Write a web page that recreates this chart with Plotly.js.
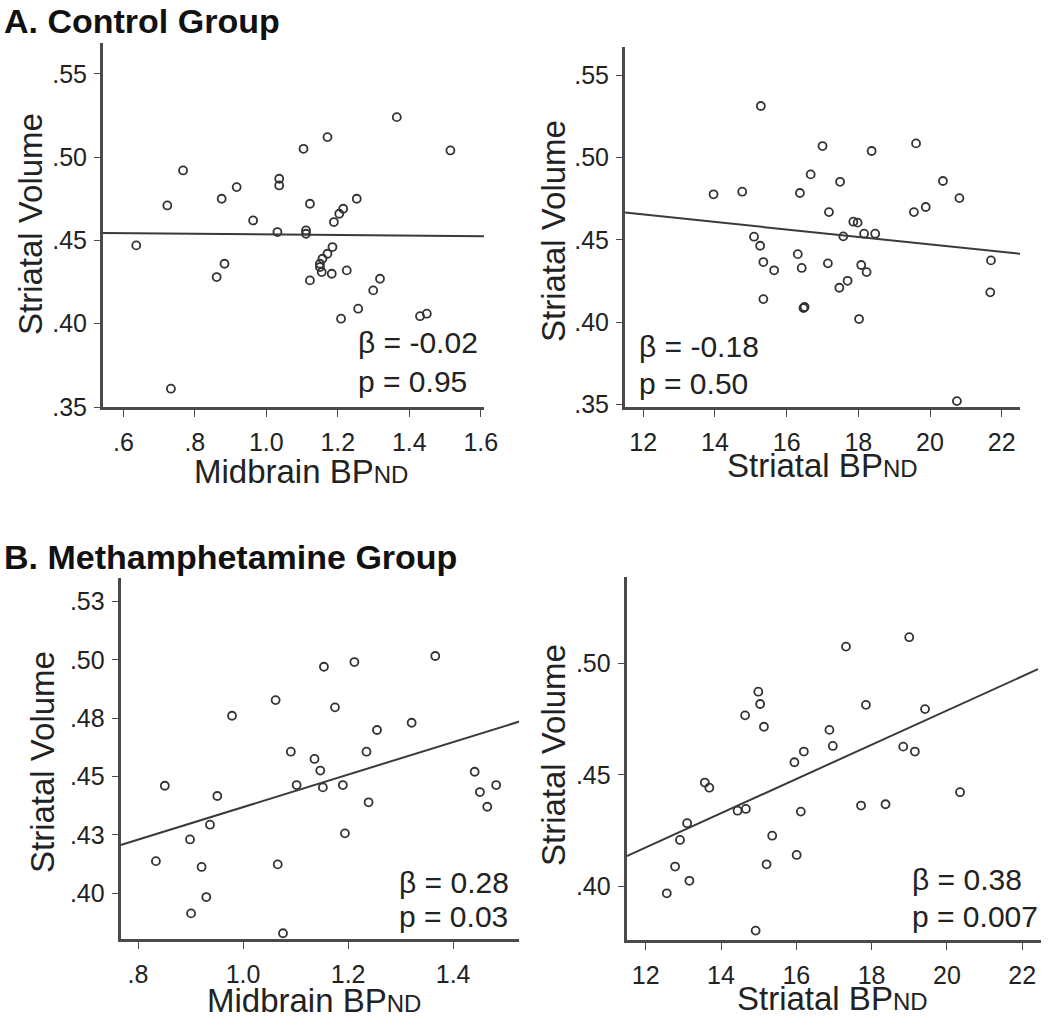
<!DOCTYPE html>
<html>
<head>
<meta charset="utf-8">
<script src="https://cdn.plot.ly/plotly-3.0.1.min.js"></script>
<style>html,body{margin:0;padding:0;background:#fff;}#chart{width:1050px;height:1029px;}</style>
</head>
<body>
<div id="chart"></div>
<script>
// ---------- Data ----------
// A. Control group – Midbrain BPND vs Striatal Volume
const ctrlMidX = [0.636,0.723,0.767,0.733,0.875,0.917,0.963,1.031,1.036,1.036,0.883,0.861,
  1.104,1.171,1.365,1.515,1.122,1.253,1.215,1.204,1.189,1.111,1.111,1.185,1.171,1.157,1.150,1.150,1.155,1.183,1.122,1.225,1.318,1.299,1.257,1.209,1.430,1.449];
const ctrlMidY = [0.447,0.471,0.492,0.361,0.475,0.482,0.462,0.455,0.483,0.487,0.436,0.428,
  0.505,0.512,0.524,0.504,0.472,0.475,0.469,0.466,0.461,0.456,0.454,0.446,0.442,0.439,0.436,0.434,0.431,0.430,0.426,0.432,0.427,0.420,0.409,0.403,0.4045,0.406];
const ctrlMidFitX = [0.543,1.609];
const ctrlMidFitY = [0.4545,0.4525];

// A. Control group – Striatal BPND vs Striatal Volume
const ctrlStrX = [15.28,13.96,14.76,16.37,16.67,15.09,15.26,15.35,15.65,16.31,16.42,15.35,16.47,16.50,
  17.00,18.37,19.61,17.49,20.36,20.82,17.18,19.55,19.88,17.86,17.98,17.58,18.16,18.47,17.15,18.08,18.23,17.70,17.47,18.02,21.70,21.68,20.75];
const ctrlStrY = [0.5312,0.4776,0.4792,0.4784,0.4897,0.4519,0.4464,0.4365,0.4315,0.4413,0.4329,0.4140,0.4086,0.4092,
  0.5069,0.5039,0.5085,0.4852,0.4857,0.4753,0.4668,0.4668,0.4699,0.4610,0.4604,0.4521,0.4537,0.4537,0.4357,0.4347,0.4304,0.4251,0.4209,0.4019,0.4375,0.4181,0.3521];
const ctrlStrFitX = [11.49,22.51];
const ctrlStrFitY = [0.4665,0.4415];

// B. Methamphetamine group – Midbrain BPND vs Striatal Volume
const methMidX = [0.851,0.834,0.899,0.921,0.930,0.901,0.937,0.951,0.979,1.062,1.091,1.102,1.066,1.076,
  1.154,1.212,1.366,1.175,1.255,1.321,1.235,1.136,1.147,1.152,1.190,1.239,1.194,1.441,1.451,1.482,1.465];
const methMidY = [0.4461,0.4138,0.4231,0.4113,0.3984,0.3914,0.4294,0.4417,0.4761,0.4828,0.4607,0.4464,0.4124,0.3829,
  0.4971,0.4991,0.5017,0.4797,0.4700,0.4731,0.4607,0.4576,0.4526,0.4454,0.4464,0.4390,0.4257,0.4521,0.4434,0.4464,0.4371];
const methMidFitX = [0.767,1.526];
const methMidFitY = [0.4207,0.4736];

// B. Methamphetamine group – Striatal BPND vs Striatal Volume
const methStrX = [12.56,12.78,12.91,13.10,13.16,13.57,13.69,14.44,14.66,14.64,14.99,15.04,15.14,15.36,15.21,14.92,15.95,16.20,16.12,16.01,16.88,16.97,
  17.32,19.00,17.85,19.42,18.84,19.15,17.72,18.37,20.35];
const methStrY = [0.3970,0.4090,0.4209,0.4284,0.4026,0.4466,0.4443,0.4340,0.4348,0.4767,0.4873,0.4818,0.4716,0.4228,0.4100,0.3803,0.4557,0.4605,0.4336,0.4142,0.4702,0.4630,
  0.5075,0.5117,0.4814,0.4795,0.4627,0.4605,0.4363,0.4369,0.4423];
const methStrFitX = [11.495,22.42];
const methStrFitY = [0.4137,0.4974];

// Tick labels
const ctrlMidXTicks = [0.6,0.8,1.0,1.2,1.4,1.6];
const ctrlMidXText  = ['.6','.8','1.0','1.2','1.4','1.6'];
const ctrlYTicks = [0.35,0.40,0.45,0.50,0.55];
const ctrlYText  = ['.35','.40','.45','.50','.55'];
const strXTicks = [12,14,16,18,20,22];
const strXText  = ['12','14','16','18','20','22'];
const methMidXTicks = [0.8,1.0,1.2,1.4];
const methMidXText  = ['.8','1.0','1.2','1.4'];
const methMidYTicks = [0.400,0.425,0.450,0.475,0.500,0.525];
const methMidYText  = ['.40','.43','.45','.48','.50','.53'];
const methStrYTicks = [0.40,0.45,0.50];
const methStrYText  = ['.40','.45','.50'];

const stats = [
  {b:'β = -0.02', p:'p = 0.95'},
  {b:'β = -0.18', p:'p = 0.50'},
  {b:'β = 0.28',  p:'p = 0.03'},
  {b:'β = 0.38',  p:'p = 0.007'}
];

// ---------- Styling ----------
const W = 1050, H = 1029;
const FONT = '"Liberation Sans", Arial, Helvetica, sans-serif';
const TXT = '#222';
const AX = '#4a4a4a';
const px = v => v / W;
const py = v => 1 - v / H;

function scat(x, y, xa, ya) {
  return {type:'scatter', mode:'markers', x:x, y:y, xaxis:xa, yaxis:ya, showlegend:false, hoverinfo:'skip',
    marker:{symbol:'circle-open', size:8, color:'#333', line:{width:1.8, color:'#333'}}};
}
function fit(x, y, xa, ya) {
  return {type:'scatter', mode:'lines', x:x, y:y, xaxis:xa, yaxis:ya, showlegend:false, hoverinfo:'skip',
    line:{color:'#3a3a3a', width:2}};
}
function xax(domain, range, tv, tt, anchor) {
  return {domain:domain, range:range, anchor:anchor, showline:true, linecolor:AX, linewidth:3,
    ticks:'outside', ticklen:7, tickwidth:1, tickcolor:AX, tickvals:tv, ticktext:tt,
    showgrid:false, zeroline:false, ticklabelstandoff:4,
    tickfont:{family:FONT, size:25, color:TXT}};
}
function yax(domain, range, tv, tt, anchor) {
  return {domain:domain, range:range, anchor:anchor, showline:true, linecolor:AX, linewidth:3,
    ticks:'outside', ticklen:6, tickwidth:1, tickcolor:AX, tickvals:tv, ticktext:tt,
    showgrid:false, zeroline:false, ticklabelstandoff:2,
    tickfont:{family:FONT, size:25, color:TXT}};
}

const data = [
  scat(ctrlMidX, ctrlMidY, 'x', 'y'),   fit(ctrlMidFitX, ctrlMidFitY, 'x', 'y'),
  scat(ctrlStrX, ctrlStrY, 'x2', 'y2'), fit(ctrlStrFitX, ctrlStrFitY, 'x2', 'y2'),
  scat(methMidX, methMidY, 'x3', 'y3'), fit(methMidFitX, methMidFitY, 'x3', 'y3'),
  scat(methStrX, methStrY, 'x4', 'y4'), fit(methStrFitX, methStrFitY, 'x4', 'y4')
];

function ann(text, x, y, opts) {
  return Object.assign({text:text, xref:'paper', yref:'paper', x:px(x), y:py(y), showarrow:false,
    xanchor:'center', yanchor:'middle', font:{family:FONT, size:33, color:TXT}}, opts || {});
}
const small = s => '<span style="font-size:24px">' + s + '</span>';
const statFont = {family:FONT, size:30, color:TXT};
const titleFont = {family:FONT, size:34, color:'#111'};

const annotations = [
  ann('<b>A. Control Group</b>', 2, 0, {xanchor:'left', yanchor:'top', font:titleFont}),
  ann('<b>B. Methamphetamine Group</b>', 2, 536, {xanchor:'left', yanchor:'top', font:titleFont}),
  ann('Striatal Volume', 30, 224, {textangle:-90}),
  ann('Striatal Volume', 553, 231, {textangle:-90}),
  ann('Striatal Volume', 42, 762, {textangle:-90}),
  ann('Striatal Volume', 553, 755, {textangle:-90}),
  ann('Midbrain BP' + small('ND'), 301, 472),
  ann('Striatal BP' + small('ND'), 822, 466),
  ann('Midbrain BP' + small('ND'), 314, 1000),
  ann('Striatal BP' + small('ND'), 832, 998),
  ann(stats[0].b, 356, 343, {xanchor:'left', font:statFont}),
  ann(stats[0].p, 356, 381, {xanchor:'left', font:statFont}),
  ann(stats[1].b, 637, 346, {xanchor:'left', font:statFont}),
  ann(stats[1].p, 637, 384, {xanchor:'left', font:statFont}),
  ann(stats[2].b, 397, 882, {xanchor:'left', font:statFont}),
  ann(stats[2].p, 397, 916, {xanchor:'left', font:statFont}),
  ann(stats[3].b, 910, 879, {xanchor:'left', font:statFont}),
  ann(stats[3].p, 910, 916, {xanchor:'left', font:statFont})
];

const layout = {
  width:W, height:H, margin:{l:0, r:0, t:0, b:0},
  paper_bgcolor:'#fff', plot_bgcolor:'rgba(0,0,0,0)',
  font:{family:FONT, color:TXT},
  showlegend:false,
  xaxis:  xax([px(103), px(484)],   [0.543, 1.609], ctrlMidXTicks, ctrlMidXText, 'y'),
  yaxis:  yax([py(407), py(43)],    [0.35, 0.5685], ctrlYTicks, ctrlYText, 'x'),
  xaxis2: xax([px(625), px(1020)],  [11.49, 22.51], strXTicks, strXText, 'y2'),
  yaxis2: yax([py(406.7), py(46.7)],[0.3487, 0.5672], ctrlYTicks, ctrlYText, 'x2'),
  xaxis3: xax([px(120.7), px(519.3)],[0.767, 1.526], methMidXTicks, methMidXText, 'y3'),
  yaxis3: yax([py(939.3), py(578.3)],[0.3803, 0.535], methMidYTicks, methMidYText, 'x3'),
  xaxis4: xax([px(626.7), px(1041)],[11.495, 22.5], strXTicks, strXText, 'y4'),
  yaxis4: yax([py(940), py(576.7)], [0.3761, 0.5388], methStrYTicks, methStrYText, 'x4'),
  annotations: annotations
};

Plotly.newPlot('chart', data, layout, {displayModeBar:false, staticPlot:true});
</script>
</body>
</html>
